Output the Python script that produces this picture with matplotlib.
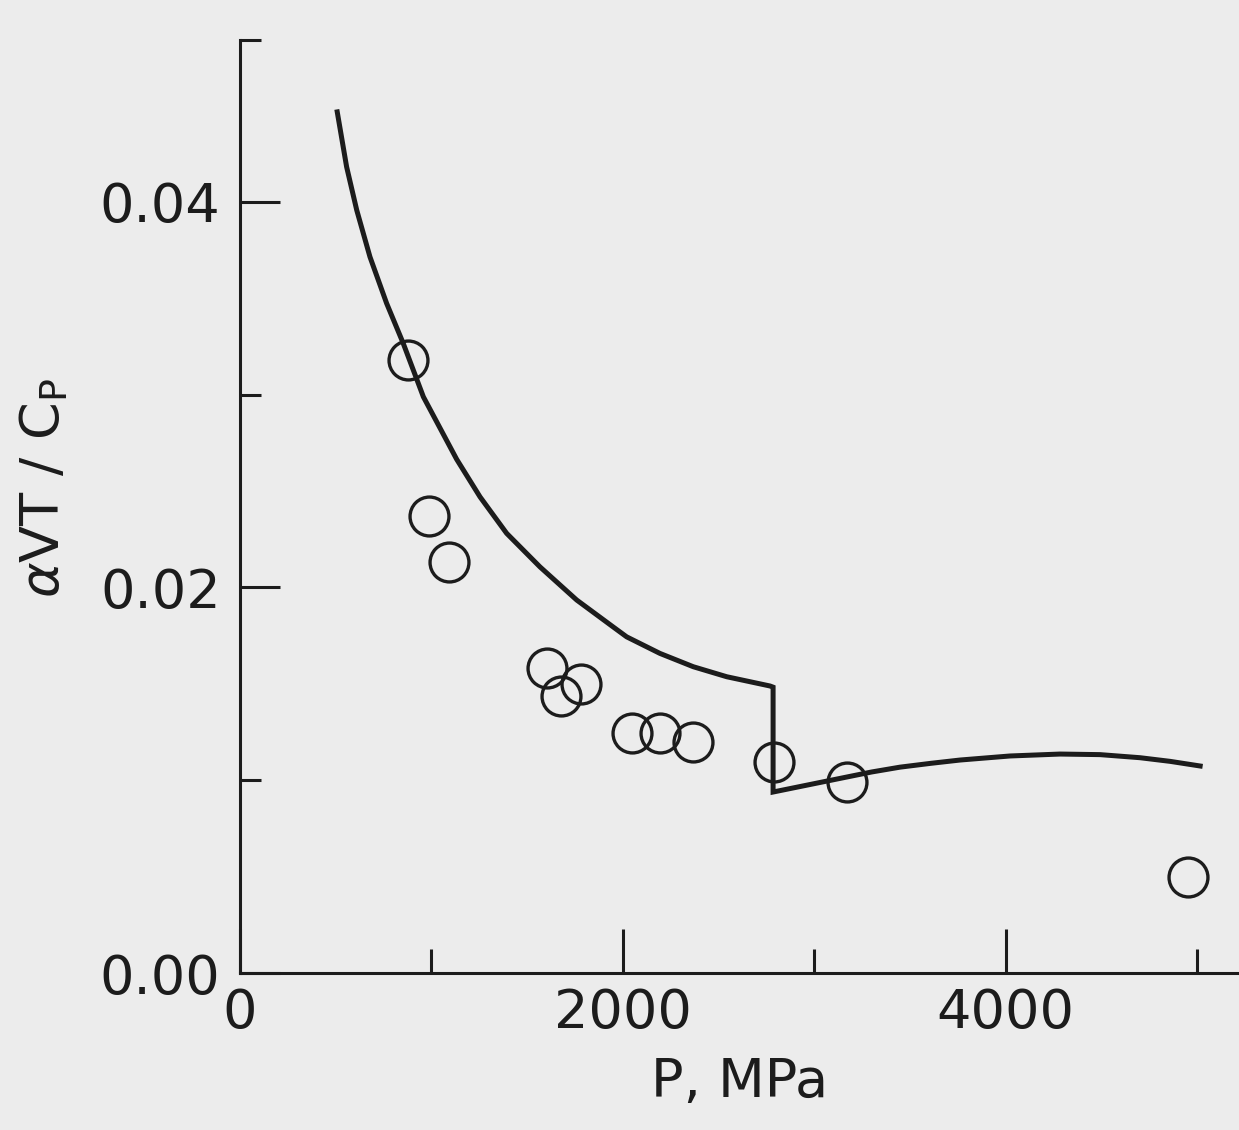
import numpy as np
import matplotlib.pyplot as plt

# model curve: upper branch down to the step, then lower branch
p_high = [508, 557, 610, 679, 766, 853, 958, 1132, 1254, 1393, 1567, 1759,
          1950, 2020, 2194, 2368, 2543, 2769, 2785]
v_high = [0.04467, 0.04182, 0.03957, 0.03715, 0.03474, 0.03266, 0.02989,
          0.02665, 0.02470, 0.02281, 0.02107, 0.01935, 0.01795, 0.01744, 0.01658,
          0.01589, 0.01537, 0.01489, 0.01483]
p_low = [2785, 3171, 3300, 3448, 3610, 3762, 4023, 4284, 4493, 4702, 4860, 5016]
v_low = [0.00939, 0.01017, 0.01043, 0.01068, 0.01088, 0.01105, 0.01126, 0.01136,
         0.01133, 0.01117, 0.01098, 0.01074]

# measured points (open circles)
p_obs = [879, 987, 1090, 1602, 1677, 1782, 2050, 2194, 2365, 2790, 3170, 4955]
v_obs = [0.03179, 0.02372, 0.02130, 0.01580, 0.01437, 0.01497,
         0.01243, 0.01243, 0.01199, 0.01095, 0.00989, 0.00499]

x_major = [0, 2000, 4000]
x_minor = [1000, 3000, 5000]
y_major = [0.00, 0.02, 0.04]
y_top = 0.0484

ink = '#1c1c1c'
paper = '#ececec'

fig = plt.figure(figsize=(12.39, 11.30), dpi=100, facecolor=paper)
ax = fig.add_axes([0.1937, 0.1389, 0.8063, 0.8257])
ax.set_facecolor(paper)

ax.plot(p_high + p_low, v_high + v_low, color=ink, lw=3.6, solid_joinstyle='miter')
ax.plot(p_obs, v_obs, 'o', ms=28, mfc='none', mec=ink, mew=2.4)

ax.set_xlim(0, 5219)
ax.set_ylim(0, y_top)

for side in ['top', 'right']:
    ax.spines[side].set_visible(False)
for side in ['left', 'bottom']:
    ax.spines[side].set_linewidth(2.2)
    ax.spines[side].set_color(ink)

ax.set_xticks(x_major)
ax.set_xticklabels([str(v) for v in x_major])
ax.set_xticks(x_minor, minor=True)
ax.set_yticks(y_major)
ax.set_yticklabels(['%.2f' % v for v in y_major])
ax.set_yticks([0.01, 0.03, y_top], minor=True)

ax.tick_params(which='both', direction='in', colors=ink, width=2.2, labelsize=39)
ax.tick_params(axis='x', which='major', length=32, pad=10)
ax.tick_params(axis='x', which='minor', length=17)
ax.tick_params(axis='y', which='major', length=29, pad=14)
ax.tick_params(axis='y', which='minor', length=15)

ax.set_xlabel('P, MPa', fontsize=39, color=ink, labelpad=12)
ax.set_ylabel(r'$\alpha$VT / C$_{\mathrm{P}}$', fontsize=39, color=ink)
ax.yaxis.set_label_coords(-0.170, 0.52)

fig.savefig('out.png', dpi=100, facecolor=paper)
